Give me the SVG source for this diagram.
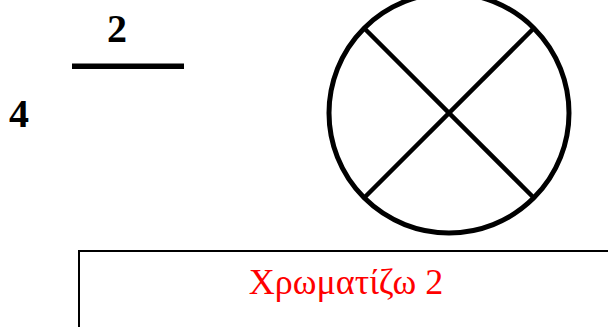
<svg xmlns="http://www.w3.org/2000/svg" width="608" height="327" viewBox="0 0 608 327">
<style>
.num{font-family:"Liberation Serif","DejaVu Serif",serif;font-weight:bold;font-size:40px;fill:#000;text-anchor:middle}
.lbl{font-family:"Liberation Serif","DejaVu Serif",serif;font-size:36px;fill:#ff0000;text-anchor:middle}
.stk{stroke:#000;fill:none}
</style>
<g id="fraction">
<text class="num" x="117" y="42">2</text>
<line class="stk" x1="72" y1="66.3" x2="184" y2="66.3" stroke-width="5.5"/>
</g>
<g id="four">
<text class="num" x="19" y="127">4</text>
</g>
<g id="circle">
<circle class="stk" cx="449" cy="113" r="120" stroke-width="5"/>
<line class="stk" x1="364" y1="28" x2="534" y2="198" stroke-width="4.5"/>
<line class="stk" x1="534" y1="28" x2="364" y2="198" stroke-width="4.5"/>
</g>
<g id="box">
<rect x="79" y="251" width="560" height="100" fill="#fff" stroke="#000" stroke-width="2"/>
<text class="lbl" x="346" y="294">Χρωματίζω 2</text>
</g>
</svg>
